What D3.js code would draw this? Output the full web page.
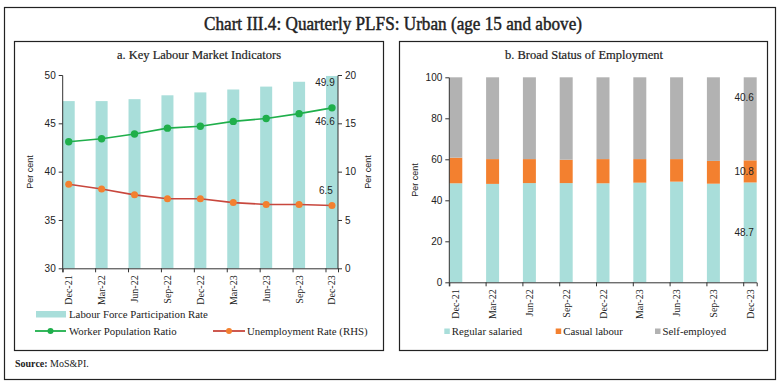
<!DOCTYPE html>
<html>
<head>
<meta charset="utf-8">
<style>
body { margin: 0; background: #fff; }
text { font-family: "Liberation Serif", serif; fill: #222; }
.num text, text.num { font-family: "Liberation Sans", sans-serif; }
</style>
</head>
<body>
<svg width="783" height="386"></svg>
<script src="https://cdn.jsdelivr.net/npm/d3@7/dist/d3.min.js"></script>
<script>

// quarters on the x axis (both panels)
var quarters = ["Dec-21", "Mar-22", "Jun-22", "Sep-22", "Dec-22", "Mar-23", "Jun-23", "Sep-23", "Dec-23"];

// panel a
var lfpr = [47.3, 47.3, 47.5, 47.9, 48.2, 48.5, 48.8, 49.3, 49.9];
var wpr = [43.1, 43.4, 43.9, 44.5, 44.7, 45.2, 45.5, 46.0, 46.6];
var unemp = [8.7, 8.2, 7.6, 7.2, 7.2, 6.8, 6.6, 6.6, 6.5];
var leftTicks = [30, 35, 40, 45, 50];
var rightTicks = [0, 5, 10, 15, 20];

// panel b
var regular = [48.3, 48.0, 48.4, 48.4, 48.3, 48.6, 49.1, 48.1, 48.7];
var casual = [12.5, 12.1, 11.7, 11.4, 11.8, 11.5, 11.0, 11.1, 10.8];
var selfEmp = [39.2, 39.9, 39.9, 40.2, 39.9, 39.9, 39.9, 40.8, 40.6];
var shareTicks = [0, 20, 40, 60, 80, 100];

var teal = "#A9DEDA", green = "#1FAF4B", red = "#C8473D", orange = "#F3802F", grey = "#B2B2B2";

var svg = d3.select("svg");

// frames
svg.append("rect").attr("x", 4.5).attr("y", 7.5).attr("width", 771).attr("height", 372)
    .attr("fill", "none").attr("stroke", "#222").attr("stroke-width", 1.2);
svg.append("rect").attr("x", 14.5).attr("y", 41.5).attr("width", 369).attr("height", 309)
    .attr("fill", "none").attr("stroke", "#222").attr("stroke-width", 1.2);
svg.append("rect").attr("x", 399.5).attr("y", 41.5).attr("width", 368).attr("height", 309)
    .attr("fill", "none").attr("stroke", "#222").attr("stroke-width", 1.2);

// titles
svg.append("text").attr("x", 393).attr("y", 30).attr("text-anchor", "middle")
    .style("font-size", "18.5px").style("stroke", "#222").style("stroke-width", 0.45)
    .attr("textLength", 378).attr("lengthAdjust", "spacingAndGlyphs")
    .text("Chart III.4: Quarterly PLFS: Urban (age 15 and above)");
svg.append("text").attr("x", 199).attr("y", 59).attr("text-anchor", "middle")
    .style("font-size", "12.5px").style("stroke", "#222").style("stroke-width", 0.2)
    .text("a. Key Labour Market Indicators");
svg.append("text").attr("x", 584).attr("y", 59).attr("text-anchor", "middle")
    .style("font-size", "12.5px").style("stroke", "#222").style("stroke-width", 0.2)
    .text("b. Broad Status of Employment");

// source
var src = svg.append("text").attr("x", 15).attr("y", 367).style("font-size", "10px");
src.append("tspan").style("font-weight", "bold").text("Source: ");
src.append("tspan").text("MoS&PI.");

// ---------- panel a ----------
var xa = d3.scaleBand().domain(quarters).range([62.7, 338]).paddingInner(0.635).paddingOuter(0).align(0);
var ya = d3.scaleLinear().domain([30, 50]).range([268.3, 75]);
var yr = d3.scaleLinear().domain([0, 20]).range([268.3, 75]);
var bwa = xa.bandwidth();

var ga = svg.append("g");

ga.selectAll(".lfpr").data(lfpr).enter().append("rect")
    .attr("class", "lfpr")
    .attr("x", function(d, i) { return xa(quarters[i]); })
    .attr("y", function(d) { return ya(d); })
    .attr("width", bwa)
    .attr("height", function(d) { return ya(30) - ya(d); })
    .attr("fill", teal);

var lineW = d3.line()
    .x(function(d, i) { return xa(quarters[i]) + bwa / 2; })
    .y(function(d) { return ya(d); });
var lineU = d3.line()
    .x(function(d, i) { return xa(quarters[i]) + bwa / 2; })
    .y(function(d) { return yr(d); });

ga.append("path").datum(wpr).attr("d", lineW).attr("fill", "none").attr("stroke", green).attr("stroke-width", 1.6);
ga.append("path").datum(unemp).attr("d", lineU).attr("fill", "none").attr("stroke", red).attr("stroke-width", 1.6);

ga.selectAll(".wpr").data(wpr).enter().append("circle")
    .attr("cx", function(d, i) { return xa(quarters[i]) + bwa / 2; })
    .attr("cy", function(d) { return ya(d); })
    .attr("r", 3.7).attr("fill", green);
ga.selectAll(".ur").data(unemp).enter().append("circle")
    .attr("cx", function(d, i) { return xa(quarters[i]) + bwa / 2; })
    .attr("cy", function(d) { return yr(d); })
    .attr("r", 3.5).attr("fill", orange);

// axes a
ga.append("g").attr("class", "num").attr("transform", "translate(62.7,0)")
    .call(d3.axisLeft(ya).tickValues(leftTicks).tickSize(4).tickPadding(3));
ga.append("g").attr("class", "num").attr("transform", "translate(338,0)")
    .call(d3.axisRight(yr).tickValues(rightTicks).tickSize(4).tickPadding(3));
var axBa = ga.append("g").attr("transform", "translate(0,268.3)")
    .call(d3.axisBottom(xa).tickSize(4).tickPadding(3));

// data labels a
var last = quarters.length - 1;
var lx = xa(quarters[last]) + bwa / 2 - 7;
ga.append("text").attr("class", "num").attr("x", lx).attr("y", ya(lfpr[last]) + 10).attr("text-anchor", "middle").style("font-size", "10px").text(lfpr[last]);
ga.append("text").attr("class", "num").attr("x", lx).attr("y", ya(wpr[last]) + 17).attr("text-anchor", "middle").style("font-size", "10px").text(wpr[last].toFixed(1));
ga.append("text").attr("class", "num").attr("x", lx + 1).attr("y", yr(unemp[last]) - 11).attr("text-anchor", "middle").style("font-size", "10px").text(unemp[last]);

// y titles a
ga.append("text").attr("class", "num").attr("transform", "translate(33,172) rotate(-90)")
    .attr("text-anchor", "middle").style("font-size", "9px").text("Per cent");
ga.append("text").attr("class", "num").attr("transform", "translate(371,172) rotate(-90)")
    .attr("text-anchor", "middle").style("font-size", "9px").text("Per cent");

// legend a
ga.append("rect").attr("x", 36).attr("y", 311).attr("width", 30).attr("height", 6.5).attr("fill", teal);
ga.append("text").attr("x", 69).attr("y", 317.5).style("font-size", "10.8px").text("Labour Force Participation Rate");
ga.append("line").attr("x1", 35).attr("x2", 66).attr("y1", 331).attr("y2", 331).attr("stroke", green).attr("stroke-width", 1.8);
ga.append("circle").attr("cx", 50.5).attr("cy", 331).attr("r", 3).attr("fill", green);
ga.append("text").attr("x", 69).attr("y", 334.5).style("font-size", "10.8px").text("Worker Population Ratio");
ga.append("line").attr("x1", 213).attr("x2", 245).attr("y1", 331).attr("y2", 331).attr("stroke", red).attr("stroke-width", 1.8);
ga.append("circle").attr("cx", 229).attr("cy", 331).attr("r", 3).attr("fill", orange);
ga.append("text").attr("x", 247).attr("y", 334.5).style("font-size", "10.8px").text("Unemployment Rate (RHS)");

// ---------- panel b ----------
var xb = d3.scaleBand().domain(quarters).range([449.3, 756.7]).paddingInner(0.647).paddingOuter(0).align(0);
var yb = d3.scaleLinear().domain([0, 100]).range([282.3, 77.3]);
var bwb = xb.bandwidth();

var rows = quarters.map(function(q, i) {
    return { q: q, regular: regular[i], casual: casual[i], self: selfEmp[i] };
});
var keys = ["regular", "casual", "self"];
var colors = { regular: teal, casual: orange, self: grey };
var stack = d3.stack().keys(keys)(rows);

var gb = svg.append("g");
gb.selectAll(".layer").data(stack).enter().append("g")
    .attr("fill", function(d) { return colors[d.key]; })
    .selectAll("rect").data(function(d) { return d; }).enter().append("rect")
    .attr("x", function(d) { return xb(d.data.q); })
    .attr("y", function(d) { return yb(Math.min(d[1], 100)); })
    .attr("width", bwb)
    .attr("height", function(d) { return yb(d[0]) - yb(Math.min(d[1], 100)); });

gb.append("g").attr("class", "num").attr("transform", "translate(449.3,0)")
    .call(d3.axisLeft(yb).tickValues(shareTicks).tickSize(4).tickPadding(3));
var axBb = gb.append("g").attr("transform", "translate(0,282.3)")
    .call(d3.axisBottom(xb).tickSize(4).tickPadding(3));

// data labels b
var bx = xb(quarters[last]) + bwb / 2 - 6;
gb.append("text").attr("class", "num").attr("x", bx).attr("y", yb(100 - 10) + 3.5).attr("text-anchor", "middle").style("font-size", "10px").text(selfEmp[last].toFixed(1));
gb.append("text").attr("class", "num").attr("x", bx).attr("y", yb(regular[last] + casual[last] / 2) + 3.5).attr("text-anchor", "middle").style("font-size", "10px").text(casual[last].toFixed(1));
gb.append("text").attr("class", "num").attr("x", bx).attr("y", yb(regular[last] / 2) + 3.5).attr("text-anchor", "middle").style("font-size", "10px").text(regular[last].toFixed(1));

gb.append("text").attr("class", "num").attr("transform", "translate(418,180) rotate(-90)")
    .attr("text-anchor", "middle").style("font-size", "9px").text("Per cent");

// legend b
var legB = [["Regular salaried", teal, 444.3], ["Casual labour", orange, 555.7], ["Self-employed", grey, 655]];
legB.forEach(function(l) {
    gb.append("rect").attr("x", l[2]).attr("y", 328.5).attr("width", 5.5).attr("height", 5.5).attr("fill", l[1]);
    gb.append("text").attr("x", l[2] + 7.5).attr("y", 334.5).style("font-size", "10.8px").text(l[0]);
});

// shared axis styling: ticks at bar left edge, rotated serif labels
[axBa, axBb].forEach(function(ax, k) {
    var bw = k == 0 ? bwa : bwb;
    ax.selectAll(".tick line").attr("x1", -bw / 2).attr("x2", -bw / 2);
    ax.selectAll(".tick text")
        .attr("transform", "rotate(-90)")
        .attr("text-anchor", "end")
        .attr("x", -7).attr("y", 0).attr("dy", "0.35em")
        .style("font-family", "Liberation Serif, serif")
        .style("font-size", "10px");
});
svg.selectAll(".domain").attr("stroke", "#333");
svg.selectAll(".tick line").attr("stroke", "#333");
svg.selectAll(".num .tick text").style("font-size", "10px").attr("fill", "#222");
svg.selectAll(".num .domain").attr("d", function() { return d3.select(this).attr("d").replace(/^M-?[\d.]+,/, "M0,").replace(/H-?[\d.]+V/, "H0V").replace(/V([\d.]+)H-?[\d.]+$/, "V$1H0"); });
</script>
</body>
</html>
